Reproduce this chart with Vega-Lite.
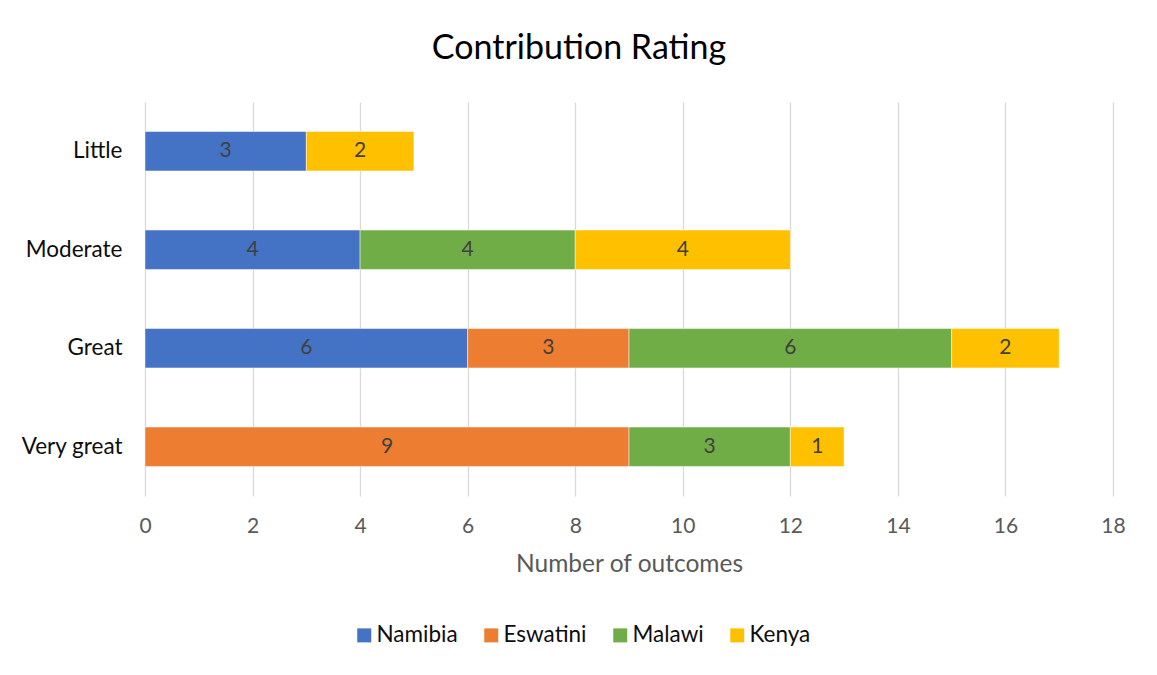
{
  "$schema": "https://vega.github.io/schema/vega-lite/v6.json",
  "width": 968,
  "height": 394,
  "autosize": {"type": "none"},
  "padding": {"left": 145, "top": 102, "right": 44, "bottom": 179},
  "background": "white",
  "title": {"text": "Contribution Rating", "font": "Lato", "fontSize": 34, "fontWeight": "normal", "color": "#000000", "anchor": "middle", "dx": -50, "offset": 36},
  "data": {"values": [
    {"Rating": "Little", "Country": "Namibia", "Outcomes": 3},
    {"Rating": "Little", "Country": "Kenya", "Outcomes": 2},
    {"Rating": "Moderate", "Country": "Namibia", "Outcomes": 4},
    {"Rating": "Moderate", "Country": "Malawi", "Outcomes": 4},
    {"Rating": "Moderate", "Country": "Kenya", "Outcomes": 4},
    {"Rating": "Great", "Country": "Namibia", "Outcomes": 6},
    {"Rating": "Great", "Country": "Eswatini", "Outcomes": 3},
    {"Rating": "Great", "Country": "Malawi", "Outcomes": 6},
    {"Rating": "Great", "Country": "Kenya", "Outcomes": 2},
    {"Rating": "Very great", "Country": "Eswatini", "Outcomes": 9},
    {"Rating": "Very great", "Country": "Malawi", "Outcomes": 3},
    {"Rating": "Very great", "Country": "Kenya", "Outcomes": 1}
  ]},
  "transform": [
    {"calculate": "indexof(['Namibia','Eswatini','Malawi','Kenya'], datum.Country)", "as": "ord"},
    {"stack": "Outcomes", "groupby": ["Rating"], "sort": [{"field": "ord", "order": "ascending"}], "as": ["x0", "x1"]},
    {"calculate": "(datum.x0 + datum.x1) / 2", "as": "xm"}
  ],
  "encoding": {
    "y": {"field": "Rating", "type": "nominal", "sort": ["Little", "Moderate", "Great", "Very great"],
      "scale": {"paddingInner": 0.6, "paddingOuter": 0.3},
      "axis": {"title": null, "ticks": false, "domain": false, "labelFont": "Lato", "labelFontSize": 22.5, "labelColor": "#0d0d0d", "labelPadding": 23}}
  },
  "layer": [
    {
      "mark": {"type": "bar", "stroke": "#ffffff", "strokeWidth": 0.8, "strokeOpacity": 0.6},
      "encoding": {
        "x": {"field": "x0", "type": "quantitative", "scale": {"domain": [0, 18], "nice": false},
          "axis": {"values": [0,2,4,6,8,10,12,14,16,18], "title": "Number of outcomes", "titleFont": "Lato", "titleFontSize": 24.5, "titleFontWeight": "normal", "titleColor": "#595959", "titlePadding": 16,
            "labelFont": "Lato", "labelFontSize": 21, "labelColor": "#595959", "labelPadding": 19, "labelFlush": false, "ticks": false, "domain": false,
            "grid": true, "gridColor": "#d9d9d9", "gridWidth": 1.3}},
        "x2": {"field": "x1"},
        "color": {"field": "Country", "type": "nominal",
          "scale": {"domain": ["Namibia", "Eswatini", "Malawi", "Kenya"], "range": ["#4472C4", "#ED7D31", "#70AD47", "#FFC000"]},
          "legend": {"title": null, "orient": "none", "direction": "horizontal", "legendX": 208, "legendY": 522,
            "symbolType": "square", "symbolSize": 196, "symbolStrokeWidth": 0, "labelFont": "Lato", "labelFontSize": 22.5, "labelColor": "#0d0d0d", "columnPadding": 22, "labelOffset": 1}}
      }
    },
    {
      "mark": {"type": "text", "font": "Lato", "fontSize": 21, "color": "#404040"},
      "encoding": {
        "x": {"field": "xm", "type": "quantitative"},
        "text": {"field": "Outcomes", "type": "quantitative"}
      }
    }
  ],
  "config": {"view": {"stroke": null}}
}
